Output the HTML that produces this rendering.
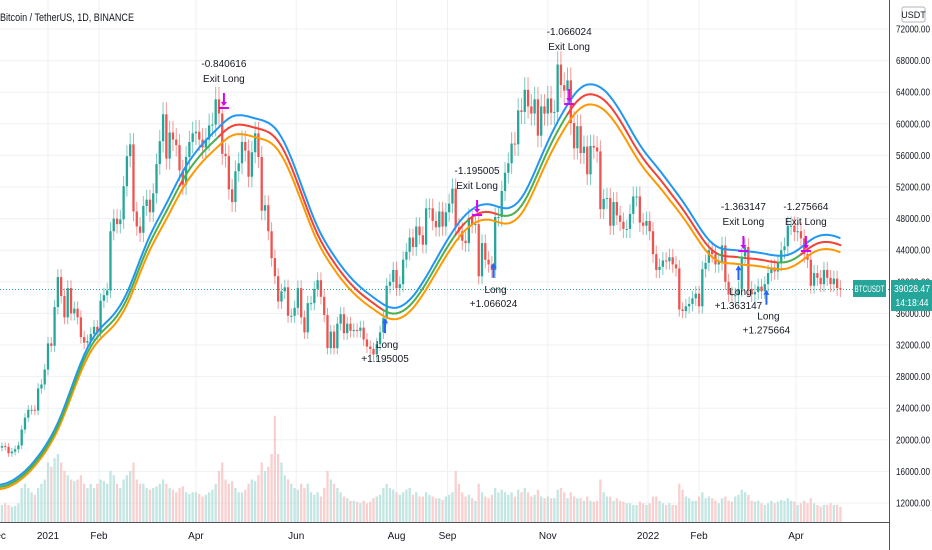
<!DOCTYPE html>
<html><head><meta charset="utf-8"><style>
html,body{margin:0;padding:0;background:#fff;width:932px;height:550px;overflow:hidden}
svg{display:block;font-family:"Liberation Sans",sans-serif}
</style></head><body>
<svg id="chart" width="932" height="550" viewBox="0 0 932 550" xmlns="http://www.w3.org/2000/svg">
<g id="grid"></g>
<g id="vol"></g>
<g id="candles"></g>
<g id="mas"></g>
<g id="sig"></g>
<g id="axes"></g>
<text x="0" y="21" font-size="11" fill="#131722" textLength="134" lengthAdjust="spacingAndGlyphs">Bitcoin / TetherUS, 1D, BINANCE</text>
</svg>
<script>
// 2-day closes (thousands USDT), starting 2020-12-02
const closes=[19.0,19.2,19.1,18.3,18.5,18.8,19.3,21.3,22.8,23.8,23.8,23.7,26.5,27.0,28.9,
32.2,31.9,36.8,40.6,38.2,35.5,39.2,36.0,36.6,35.5,33.0,32.3,32.5,33.4,34.3,
33.5,37.6,38.3,38.9,46.4,48.0,47.3,47.9,52.1,55.9,57.4,48.9,47.0,46.2,
49.6,50.4,48.8,51.2,54.9,57.8,61.2,55.6,58.9,58.0,57.3,54.1,52.3,55.8,57.7,58.8,
59.0,58.0,57.0,58.0,59.8,59.9,63.1,61.3,56.2,55.9,51.7,50.1,54.0,55.0,57.7,
56.6,53.3,56.4,58.8,55.8,49.0,49.7,46.4,43.0,40.7,37.5,38.8,39.3,35.7,35.7,
36.7,39.2,35.5,33.6,37.3,37.3,39.1,40.2,38.1,35.8,31.6,33.7,31.6,34.7,35.9,
33.5,34.7,33.8,33.9,33.8,34.2,32.7,31.8,31.5,30.8,32.1,33.6,35.4,39.5,40.0,41.5,
39.2,39.7,42.8,43.8,45.6,44.4,47.0,45.9,44.7,49.3,49.3,47.7,46.9,48.9,47.0,
48.8,49.9,51.8,46.9,46.4,45.2,44.9,48.1,47.3,47.3,40.7,44.9,42.8,42.2,41.5,
48.2,48.2,51.5,53.8,55.0,57.5,57.4,61.7,61.5,64.3,62.2,61.3,63.1,58.5,62.2,61.3,
63.2,61.4,61.5,67.5,64.9,64.2,65.5,60.1,56.9,59.7,56.3,57.1,53.6,57.2,57.0,
56.5,49.2,50.5,50.6,47.1,50.1,48.4,47.6,46.7,46.7,48.6,50.8,50.8,47.5,47.1,
47.7,46.4,43.5,41.5,41.9,42.7,42.6,43.1,42.2,41.7,36.5,36.3,36.9,37.2,37.9,38.5,
36.9,41.6,42.4,44.0,43.5,42.2,42.5,44.6,40.0,38.4,38.3,38.3,39.1,43.2,
44.4,39.1,38.4,38.7,39.4,38.8,39.7,41.1,41.8,41.3,42.4,44.0,44.5,47.1,47.1,
46.3,46.4,45.5,43.5,42.8,39.5,41.1,40.5,39.7,41.5,40.5,39.7,40.4,39.2,39.03];
// relative volume per candle
const volumes=[18,20,22,20,18,19,22,40,45,40,35,32,40,45,50,
70,65,75,80,70,60,55,50,48,50,55,45,40,45,40,
45,50,48,45,60,55,45,40,50,55,60,70,50,45,
45,40,38,40,42,45,50,45,40,38,35,40,42,35,33,35,
35,33,30,32,35,38,45,60,70,50,45,48,40,35,35,
38,45,50,48,55,70,60,65,80,125,80,70,55,50,45,
40,38,45,40,45,35,32,35,30,40,60,50,45,40,35,
30,28,25,25,24,22,25,22,24,28,30,32,40,45,40,38,
35,32,35,38,40,32,35,30,30,35,32,30,28,28,26,
30,32,35,60,45,35,30,32,28,25,45,35,30,28,32,
40,35,38,35,32,35,30,38,35,40,35,30,32,38,30,28,
30,28,28,38,40,35,28,35,30,28,28,25,30,25,24,
25,50,35,30,30,25,28,25,24,22,22,20,20,24,22,
20,22,30,30,25,22,20,22,20,20,45,38,30,28,25,25,
30,35,28,30,28,25,22,28,30,25,24,30,32,38,
35,32,25,24,25,22,20,22,25,22,24,26,25,28,25,
24,20,22,25,22,28,22,20,18,20,20,22,20,20,18];
const priceTicks=[12000,16000,20000,24000,28000,32000,36000,40000,44000,48000,52000,56000,60000,64000,68000,72000];
const timeLabels=["Dec","2021","Feb","Apr","Jun","Aug","Sep","Nov","2022","Feb","Apr","Jul"];
const timeDays=[-31,0,31,90,151,212,243,304,365,396,455,546];
const exitDays=[107,261,317,423,461];
const exitPrices=[62000,48450,62500,43900,43900];
const exitTextLift=[0,0,28,0,0];
const exitTexts=["-0.840616","-1.195005","-1.066024","-1.363147","-1.275664"];
const longDays=[205,271,420,437];
const longPrices=[35400,42400,42100,39000];
const longTexts=["+1.195005","+1.066024","+1.363147","+1.275664"];

const NS="http://www.w3.org/2000/svg";
const X0=48,PXD=1.644,START=-30;
function xd(d){return X0+d*PXD;}
function yp(p){return 29+(72000-p)/4000*31.6;}
function mk(tag,attrs,parent){const e=document.createElementNS(NS,tag);for(const k in attrs)e.setAttribute(k,attrs[k]);parent.appendChild(e);return e;}
const G=id=>document.getElementById(id);

for(const p of priceTicks){const l=mk('line',{x1:0,x2:889,y1:yp(p),y2:yp(p),stroke:'#eef0f4','stroke-width':1},G('grid'));

}
for(const d of timeDays){const l=mk('line',{x1:xd(d),x2:xd(d),y1:0,y2:522,stroke:'#eef0f4','stroke-width':1},G('grid'));

}

const cw=2.3;
let prev=closes[0]*0.99;
closes.forEach((c,i)=>{
  const cp=c*1000,op=prev*1000;
  const x=xd(START+i*2);
  const up=cp>=op, col=up?'#26a69a':'#ef5350';
  const hi=Math.max(cp,op)*1.025, lo=Math.min(cp,op)*0.975;
  const w=mk('line',{x1:x,x2:x,y1:yp(hi),y2:yp(lo),stroke:col,'stroke-width':1,opacity:0.6},G('candles'));
  
  
  const yt=yp(Math.max(cp,op)),yb=yp(Math.min(cp,op));
  const b=mk('rect',{x:x-cw/2,y:yt,width:cw,height:Math.max(1,yb-yt),fill:col},G('candles'));
  
  
  const v=(volumes[i]||20)*0.85;
  const vb=mk('rect',{x:x-cw/2,y:522-v,width:cw,height:v,fill:up?'#a8dcd6':'#f7bcbb',opacity:0.7},G('vol'));
  
  
  prev=c;
});

// 4-pole gaussian-style filter on an upper source
const a=0.23;const poles=[14,14,14,14];const mid=[];
closes.forEach(c=>{let v=c*1.05;for(let k=0;k<4;k++){poles[k]+=a*(v-poles[k]);v=poles[k];}mid.push(v);});
function pathOf(f){return mid.map((m,i)=>(i?'L':'M')+xd(START+i*2).toFixed(1)+' '+yp(f(m)*1000).toFixed(1)).join(' ');}
const pb=mk('path',{d:pathOf(m=>m*1.02),fill:'none',stroke:'#2196f3','stroke-width':2},G('mas'));


const po=mk('path',{d:pathOf(m=>m*0.98),fill:'none',stroke:'#ff9800','stroke-width':2},G('mas'));


for(let i=1;i<mid.length;i++){
  const col=closes[i]>mid[i]?'#4caf50':'#f44336';
  const s=mk('line',{x1:xd(START+(i-1)*2),y1:yp(mid[i-1]*1000),x2:xd(START+i*2),y2:yp(mid[i]*1000),stroke:col,'stroke-width':2,'stroke-linecap':'round'},G('mas'));
  
  
}

exitDays.forEach((d,i)=>{
  const x=xd(d),y=yp(exitPrices[i]),L=exitTextLift[i];
  const g=mk('g',{},G('sig'));
  
  
  mk('line',{x1:x,x2:x,y1:y-15,y2:y-4,stroke:'#d500f9','stroke-width':2},g);
  mk('path',{d:`M${x-3} ${y-6} L${x+3} ${y-6} L${x} ${y-2} Z`,fill:'#d500f9'},g);
  mk('line',{x1:x-5,x2:x+5,y1:y,y2:y,stroke:'#d500f9','stroke-width':2},g);
  const t1=mk('text',{x:x,y:y-41-L,'font-size':10,'text-anchor':'middle',fill:'#131722'},g);t1.textContent=exitTexts[i];
  const t2=mk('text',{x:x,y:y-26-L,'font-size':10,'text-anchor':'middle',fill:'#131722'},g);t2.textContent='Exit Long';
});
longDays.forEach((d,i)=>{
  const x=xd(d),y=yp(longPrices[i]);
  const g=mk('g',{},G('sig'));
  
  
  mk('line',{x1:x,x2:x,y1:y+4,y2:y+15,stroke:'#2962ff','stroke-width':2},g);
  mk('path',{d:`M${x-3} ${y+5} L${x+3} ${y+5} L${x} ${y} Z`,fill:'#2962ff'},g);
  const t1=mk('text',{x:x+2,y:y+30,'font-size':10,'text-anchor':'middle',fill:'#131722'},g);t1.textContent='Long';
  const t2=mk('text',{x:x,y:y+44,'font-size':10,'text-anchor':'middle',fill:'#131722'},g);t2.textContent=longTexts[i];
});

const ax=G('axes');
mk('rect',{x:889,y:0,width:43,height:550,fill:'#fff'},ax);
mk('rect',{x:0,y:522,width:932,height:28,fill:'#fff'},ax);
mk('line',{x1:889.5,x2:889.5,y1:0,y2:550,stroke:'#50535e','stroke-width':1},ax);
mk('line',{x1:0,x2:889,y1:522.5,y2:522.5,stroke:'#50535e','stroke-width':1},ax);
priceTicks.forEach(p=>{const t=mk('text',{x:896,y:yp(p)+3.5,'font-size':10,fill:'#131722',textLength:34,lengthAdjust:'spacingAndGlyphs'},ax);


t.textContent=p.toFixed(2);});
timeLabels.forEach((s,i)=>{const t=mk('text',{x:xd(timeDays[i]),y:539,'font-size':10,'text-anchor':'middle',fill:'#131722'},ax);


t.textContent=s;});
const ub=mk('rect',{x:902,y:7,width:23,height:15,rx:2,fill:'#fff',stroke:'#b2b5be'},ax);


const ut=mk('text',{x:913.5,y:18,'font-size':9,'text-anchor':'middle',fill:'#131722'},ax);ut.textContent='USDT';
const lp=39028.47,ly=yp(lp);
const dl=mk('line',{x1:0,x2:889,y1:ly,y2:ly,stroke:'#26a69a','stroke-width':1,'stroke-dasharray':'1 2'},G('grid'));


const sb=mk('rect',{x:853,y:280,width:33,height:17,fill:'#26a69a'},ax);


const st=mk('text',{x:869.5,y:292,'font-size':9,'text-anchor':'middle',fill:'#fff',textLength:30,lengthAdjust:'spacingAndGlyphs'},ax);st.textContent='BTCUSDT';
const pbx=mk('rect',{x:891,y:280,width:41,height:31,fill:'#26a69a'},ax);


const pt=mk('text',{x:912,y:292,'font-size':10,'text-anchor':'middle',fill:'#fff',textLength:36,lengthAdjust:'spacingAndGlyphs'},ax);pt.textContent=lp.toFixed(2);
const ct=mk('text',{x:912,y:306,'font-size':10,'text-anchor':'middle',fill:'#fff',textLength:33,lengthAdjust:'spacingAndGlyphs'},ax);ct.textContent='14:18:44';
</script>
</body></html>
